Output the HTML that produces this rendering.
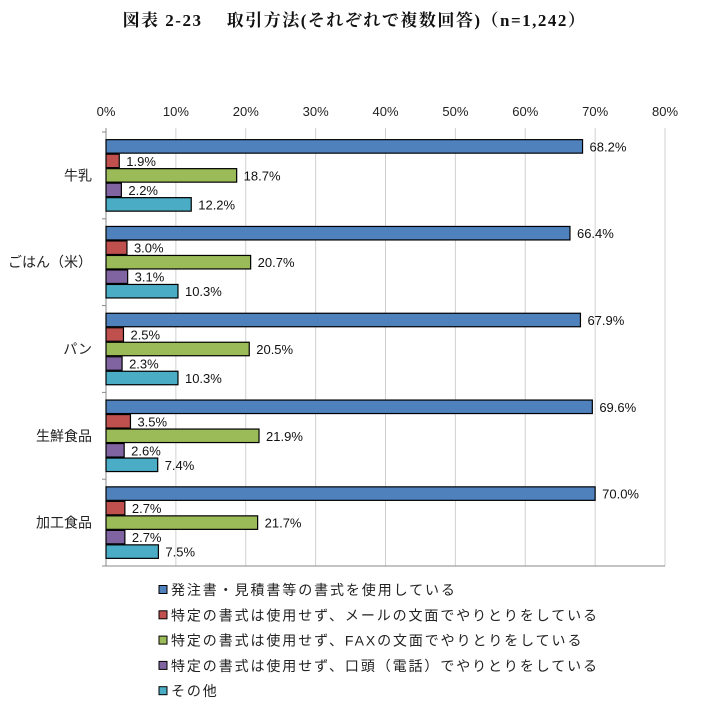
<!DOCTYPE html>
<html><head><meta charset="utf-8">
<style>
body{margin:0;background:#fff;width:709px;height:711px;overflow:hidden;font-family:"Liberation Sans","Noto Sans CJK JP",sans-serif}
#title{position:absolute;left:0;width:709px;top:6px;text-align:center;font-family:"Liberation Serif","Noto Serif CJK SC",serif;font-weight:bold;font-size:17px;letter-spacing:1.5px;color:#111}
</style></head><body>
<div id="title">図表 2-23　 取引方法(それぞれで複数回答)（n=1,242）</div>
<svg id="chart" width="709" height="711" style="position:absolute;left:0;top:0"></svg>
<script>
const categories=["牛乳","ごはん（米）","パン","生鮮食品","加工食品"];
const seriesNames=["発注書・見積書等の書式を使用している","特定の書式は使用せず、メールの文面でやりとりをしている","特定の書式は使用せず、FAXの文面でやりとりをしている","特定の書式は使用せず、口頭（電話）でやりとりをしている","その他"];
const s1=[68.2,66.4,67.9,69.6,70.0];
const s2=[1.9,3.0,2.5,3.5,2.7];
const s3=[18.7,20.7,20.5,21.9,21.7];
const s4=[2.2,3.1,2.3,2.6,2.7];
const s5=[12.2,10.3,10.3,7.4,7.5];
const ticks=[0,10,20,30,40,50,60,70,80];
const series=[s1,s2,s3,s4,s5];
const colors=["#4f81bd","#c0504d","#9bbb59","#8064a2","#4bacc6"];
const NS="http://www.w3.org/2000/svg";
const svg=document.getElementById('chart');
const x0=106,x1=665,yTop=132,yBot=566;
const gh=(yBot-yTop)/categories.length, bh=14.5, pad=(gh-bh*5)/2;
const X=v=>x0+(v/80)*(x1-x0);
function mk(t,a){const e=document.createElementNS(NS,t);for(const k in a)e.setAttribute(k,a[k]);svg.appendChild(e);return e;}
ticks.forEach((t,i)=>{
  const g=mk('line',{x1:X(t),x2:X(t),y1:yTop-4,y2:yBot,stroke:i==0?'#888':'#d0d0d0','stroke-width':1});
  
  
  const tx=mk('text',{x:X(t),y:116,'text-anchor':'middle','font-size':13,fill:'#222'});
  tx.textContent=t+'%';
  
  
});
for(let i=0;i<=categories.length;i++){
  const y=yTop+i*gh;
  const tk=mk('line',{x1:x0-4,x2:x0,y1:y,y2:y,stroke:'#888'});
  
  
}
const ax=mk('line',{x1:x0-4,x2:x1,y1:yBot,y2:yBot,stroke:'#888'});


categories.forEach((c,ci)=>{
  const gy=yTop+ci*gh;
  const lb=mk('text',{x:x0-14,y:gy+gh/2+5,'text-anchor':'end','font-size':14,fill:'#222'});
  lb.textContent=c;
  
  
  series.forEach((s,si)=>{
    const y=gy+pad+si*bh, v=s[ci];
    const r=mk('rect',{x:x0,y:y+0.5,width:X(v)-x0,height:bh-1,fill:colors[si],stroke:'#000','stroke-width':1.2});
    
    
    const t=mk('text',{x:X(v)+7,y:y+bh/2+5,'font-size':13,fill:'#111'});
    t.textContent=v.toFixed(1)+'%';
    
    
  });
});
seriesNames.forEach((n,i)=>{
  const y=590+i*25.3;
  const sq=mk('rect',{x:159,y:y-4.5,width:8,height:8,fill:colors[i],stroke:'#000','stroke-width':1});
  
  
  const t=mk('text',{x:171,y:y+5,'font-size':14,'letter-spacing':'1.9px',fill:'#222'});
  t.textContent=n;
  
  
});
</script>
</body></html>
